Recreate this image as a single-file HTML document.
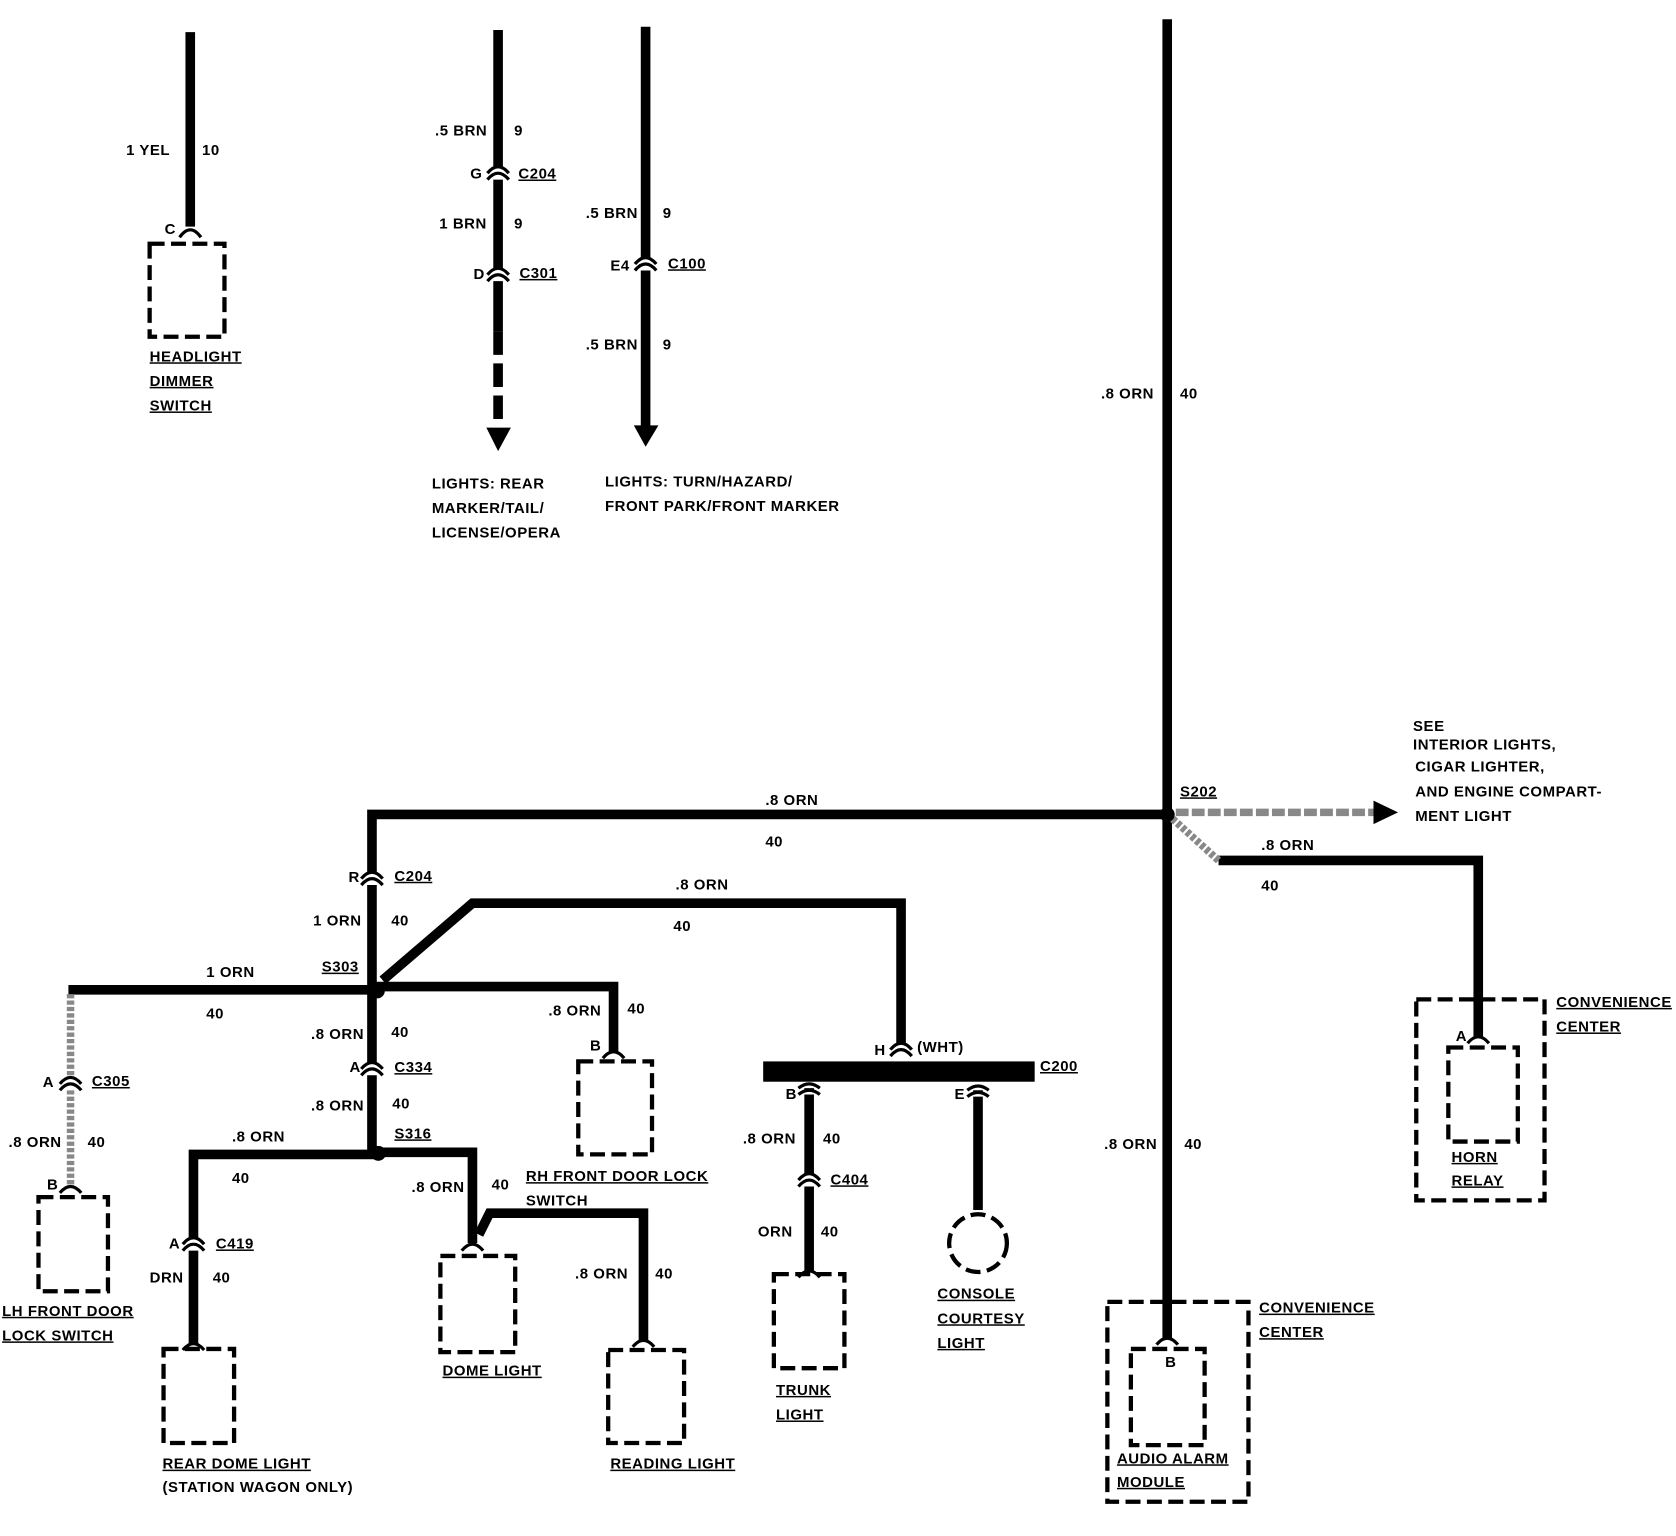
<!DOCTYPE html>
<html><head><meta charset="utf-8"><style>
html,body{margin:0;padding:0;background:#fff;}
svg{display:block}
text{font-family:"Liberation Sans",sans-serif;font-weight:bold;font-size:14px;fill:#000;letter-spacing:0.5px}
.u{text-decoration:underline}
</style></head><body>
<svg width="1676" height="1536" viewBox="0 0 1568 1437" xmlns="http://www.w3.org/2000/svg">
<g stroke="#000" stroke-width="9" fill="none" stroke-linecap="butt">
<!-- headlight -->
<line x1="178" y1="30" x2="178" y2="212"/>
<!-- wire 2 -->
<line x1="466" y1="28" x2="466" y2="310"/>
<line x1="466" y1="310" x2="466" y2="400" stroke-dasharray="22,8"/>
<!-- wire 3 -->
<line x1="604" y1="25" x2="604" y2="400"/>
<!-- main vertical -->
<line x1="1092" y1="18" x2="1092" y2="1255"/>
<!-- horizontal 762 -->
<polyline points="1092,762 348,762 348,1079"/>
<!-- horn relay -->
<polyline points="1140,805 1383,805 1383,970"/>
<!-- left 1 ORN -->
<line x1="64" y1="926" x2="352" y2="926"/>
<!-- rh door lock -->
<polyline points="352,923 574,923 574,985"/>
<!-- diag to C200 -->
<polyline points="358,917 442,845 843,845 843,978"/>
<!-- C200 down wires -->
<line x1="757" y1="1015" x2="757" y2="1190"/>
<line x1="915" y1="1018" x2="915" y2="1132"/>
<!-- S316 left -->
<polyline points="354,1080 181,1080 181,1258"/>
<!-- S316 right -->
<polyline points="354,1078 442,1078 442,1163"/>
<polyline points="448,1155 458,1135 602,1135 602,1255"/>
</g>
<!-- gray dashed items -->
<g stroke="#888" fill="none">
<line x1="66" y1="930" x2="66" y2="1108" stroke-width="7" stroke-dasharray="4,2"/>
<line x1="1097" y1="766" x2="1140" y2="805" stroke-width="7" stroke-dasharray="4,2"/>
<line x1="1100" y1="760" x2="1288" y2="760" stroke-width="7" stroke-dasharray="12,3"/>
</g>
<polygon points="1285,749 1308,760 1285,771" fill="#000"/>
<polygon points="455,400 478,400 466,422" fill="#000"/>
<polygon points="593,398 616,398 604,418" fill="#000"/>
<!-- splices -->
<g fill="#000">
<circle cx="1092" cy="762" r="7"/>
<circle cx="353" cy="927" r="7"/>
<circle cx="354" cy="1079" r="7"/>
<rect x="714" y="993" width="254" height="19"/>
</g>
<!-- connectors (inline double arcs) -->
<g stroke="#000" stroke-width="3" fill="#fff">
<path d="M456,168 Q466,156 476,168 M456,162 Q466,150 476,162"/>
<path d="M456,263 Q466,251 476,263 M456,257 Q466,245 476,257"/>
<path d="M594,253 Q604,241 614,253 M594,247 Q604,235 614,247"/>
<path d="M338,828 Q348,816 358,828 M338,822 Q348,810 358,822"/>
<path d="M338,1006 Q348,994 358,1006 M338,1000 Q348,988 358,1000"/>
<path d="M56,1020 Q66,1008 76,1020 M56,1014 Q66,1002 76,1014"/>
<path d="M171,1170 Q181,1158 191,1170 M171,1164 Q181,1152 191,1164"/>
<path d="M747,1110 Q757,1098 767,1110 M747,1104 Q757,1092 767,1104"/>
<path d="M833,988 Q843,976 853,988 M833,982 Q843,970 853,982"/>
<path d="M747,1024 Q757,1016 767,1024 M747,1018 Q757,1010 767,1018"/>
<path d="M905,1026 Q915,1018 925,1026 M905,1020 Q915,1012 925,1020"/>
<!-- terminal arcs -->
<path d="M168,222 Q178,208 188,222"/>
<path d="M564,990 Q574,978 584,990"/>
<path d="M56,1116 Q66,1104 76,1116"/>
<path d="M1373,976 Q1383,964 1393,976"/>
<path d="M1082,1258 Q1092,1246 1102,1258"/>
<path d="M432,1170 Q442,1158 452,1170"/>
<path d="M592,1260 Q602,1248 612,1260"/>
<path d="M171,1263 Q181,1251 191,1263"/>
<path d="M747,1195 Q757,1183 767,1195"/>
</g>
<!-- dashed boxes -->
<g stroke="#000" stroke-width="4" fill="none" stroke-dasharray="14,6">
<rect x="140" y="228" width="70" height="87"/>
<rect x="541" y="993" width="69" height="87"/>
<rect x="36" y="1120" width="65" height="88"/>
<rect x="153" y="1262" width="66" height="88"/>
<rect x="412" y="1175" width="70" height="90"/>
<rect x="569" y="1263" width="71" height="87"/>
<rect x="724" y="1192" width="66" height="88"/>
<rect x="1325" y="935" width="120" height="188"/>
<rect x="1355" y="980" width="65" height="88"/>
<rect x="1036" y="1218" width="132" height="187"/>
<rect x="1058" y="1262" width="69" height="90"/>
<circle cx="915" cy="1163" r="27"/>
</g>
<!-- labels -->
<text x="118" y="145">1 YEL</text><text x="189" y="145">10</text>
<text x="154" y="219" font-size="12">C</text>
<text x="140" y="338" class="u">HEADLIGHT</text>
<text x="140" y="361" class="u">DIMMER</text>
<text x="140" y="384" class="u">SWITCH</text>
<text x="407" y="127">.5 BRN</text><text x="481" y="127">9</text>
<text x="440" y="167">G</text><text x="485" y="167" class="u">C204</text>
<text x="411" y="214">1 BRN</text><text x="481" y="214">9</text>
<text x="443" y="261">D</text><text x="486" y="260" class="u">C301</text>
<text x="548" y="204">.5 BRN</text><text x="620" y="204">9</text>
<text x="571" y="253">E4</text><text x="625" y="251" class="u">C100</text>
<text x="548" y="327">.5 BRN</text><text x="620" y="327">9</text>
<text x="404" y="457">LIGHTS:  REAR</text>
<text x="404" y="480">MARKER/TAIL/</text>
<text x="404" y="503">LICENSE/OPERA</text>
<text x="566" y="455">LIGHTS:  TURN/HAZARD/</text>
<text x="566" y="478">FRONT PARK/FRONT MARKER</text>
<text x="1030" y="373">.8 ORN</text><text x="1104" y="373">40</text>
<text x="1033" y="1075">.8 ORN</text><text x="1108" y="1075">40</text>
<text x="1104" y="745" class="u">S202</text>
<text x="716" y="753">.8 ORN</text><text x="716" y="792">40</text>
<text x="1322" y="684">SEE</text>
<text x="1322" y="701">INTERIOR LIGHTS,</text>
<text x="1324" y="722">CIGAR LIGHTER,</text>
<text x="1324" y="745">AND ENGINE COMPART-</text>
<text x="1324" y="768">MENT LIGHT</text>
<text x="1180" y="795">.8 ORN</text><text x="1180" y="833">40</text>
<text x="1362" y="974" font-size="12">A</text>
<text x="1358" y="1087" class="u">HORN</text>
<text x="1358" y="1109" class="u">RELAY</text>
<text x="1456" y="942" class="u">CONVENIENCE</text>
<text x="1456" y="965" class="u">CENTER</text>
<text x="326" y="825">R</text><text x="369" y="824" class="u">C204</text>
<text x="293" y="866">1 ORN</text><text x="366" y="866">40</text>
<text x="301" y="909" class="u">S303</text>
<text x="291" y="972">.8 ORN</text><text x="366" y="970">40</text>
<text x="327" y="1003">A</text><text x="369" y="1003" class="u">C334</text>
<text x="291" y="1039">.8 ORN</text><text x="367" y="1037">40</text>
<text x="369" y="1065" class="u">S316</text>
<text x="193" y="914">1 ORN</text><text x="193" y="953">40</text>
<text x="40" y="1017">A</text><text x="86" y="1016" class="u">C305</text>
<text x="8" y="1073">.8 ORN</text><text x="82" y="1073">40</text>
<text x="44" y="1113" font-size="11">B</text>
<text x="2" y="1231" class="u">LH FRONT DOOR</text>
<text x="2" y="1254" class="u">LOCK SWITCH</text>
<text x="513" y="950">.8 ORN</text><text x="587" y="948">40</text>
<text x="552" y="983" font-size="11">B</text>
<text x="632" y="832">.8 ORN</text><text x="630" y="871">40</text>
<text x="818" y="987">H</text><text x="858" y="984">(WHT)</text>
<text x="973" y="1002" class="u">C200</text>
<text x="735" y="1028" font-size="12">B</text><text x="893" y="1028" font-size="12">E</text>
<text x="695" y="1070">.8 ORN</text><text x="770" y="1070">40</text>
<text x="777" y="1108" class="u">C404</text>
<text x="709" y="1157">ORN</text><text x="768" y="1157">40</text>
<text x="726" y="1305" class="u">TRUNK</text>
<text x="726" y="1328" class="u">LIGHT</text>
<text x="877" y="1215" class="u">CONSOLE</text>
<text x="877" y="1238" class="u">COURTESY</text>
<text x="877" y="1261" class="u">LIGHT</text>
<text x="217" y="1068">.8 ORN</text><text x="217" y="1107">40</text>
<text x="158" y="1168">A</text><text x="202" y="1168" class="u">C419</text>
<text x="140" y="1200">DRN</text><text x="199" y="1200">40</text>
<text x="152" y="1374" class="u">REAR DOME LIGHT</text>
<text x="152" y="1396">(STATION WAGON ONLY)</text>
<text x="385" y="1115">.8 ORN</text><text x="460" y="1113">40</text>
<text x="492" y="1105" class="u">RH FRONT DOOR LOCK</text>
<text x="492" y="1128">SWITCH</text>
<text x="414" y="1287" class="u">DOME LIGHT</text>
<text x="538" y="1196">.8 ORN</text><text x="613" y="1196">40</text>
<text x="571" y="1374" class="u">READING LIGHT</text>
<text x="1090" y="1279" font-size="11">B</text>
<text x="1045" y="1369" class="u">AUDIO ALARM</text>
<text x="1045" y="1391" class="u">MODULE</text>
<text x="1178" y="1228" class="u">CONVENIENCE</text>
<text x="1178" y="1251" class="u">CENTER</text>
</svg>
</body></html>
